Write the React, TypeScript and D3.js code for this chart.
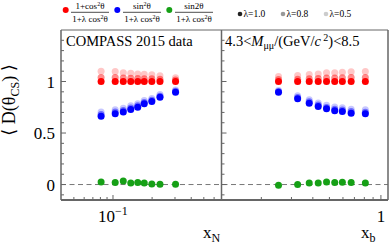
import * as d3 from 'd3';

// x positions of the bins
const xN = [0.081, 0.104, 0.12, 0.137, 0.155, 0.174, 0.199, 0.23, 0.303];
const xB = [0.252, 0.326, 0.381, 0.43, 0.481, 0.537, 0.595, 0.67, 0.811];

// left panel (x_N)
const redN10 = [1.0, 1.0, 1.0, 1.0, 1.0, 1.0, 1.0, 1.0, 1.0];
const redN08 = [1.04, 1.039, 1.034, 1.032, 1.03, 1.028, 1.026, 1.022, 1.014];
const redN05 = [1.1, 1.097, 1.084, 1.08, 1.074, 1.071, 1.065, 1.055, 1.036];
const blueN10 = [0.664, 0.687, 0.703, 0.729, 0.751, 0.784, 0.806, 0.848, 0.897];
const blueN08 = [0.68, 0.703, 0.718, 0.743, 0.765, 0.797, 0.818, 0.858, 0.905];
const blueN05 = [0.704, 0.727, 0.741, 0.765, 0.785, 0.816, 0.836, 0.874, 0.917];
const greenN = [0.025, 0.02, 0.035, 0.015, 0.02, 0.015, 0.006, 0.003, 0.003];

// right panel (x_b)
const redB10 = [1.0, 1.0, 1.0, 1.0, 1.0, 1.0, 1.0, 1.0, 1.0];
const redB08 = [1.019, 1.023, 1.027, 1.03, 1.034, 1.034, 1.036, 1.038, 1.039];
const redB05 = [1.048, 1.058, 1.068, 1.074, 1.084, 1.084, 1.09, 1.094, 1.097];
const blueB10 = [0.897, 0.832, 0.79, 0.758, 0.735, 0.716, 0.71, 0.693, 0.687];
const blueB08 = [0.903, 0.844, 0.803, 0.772, 0.749, 0.73, 0.724, 0.708, 0.702];
const blueB05 = [0.912, 0.862, 0.822, 0.792, 0.77, 0.752, 0.746, 0.73, 0.725];
const greenB = [-0.007, 0.0, 0.016, 0.016, 0.025, 0.02, 0.022, 0.02, 0.016];

const yMinor = [-0.1, 0.1, 0.2, 0.3, 0.4, 0.6, 0.7, 0.8, 0.9, 1.1, 1.2, 1.3, 1.4];
const yMajor = [0, 0.5, 1];
const xNTicks = [0.05, 0.06, 0.07, 0.08, 0.09, 0.2, 0.3, 0.4, 0.5, 0.6];
const xBTicks = [0.2, 0.3, 0.4, 0.5, 0.6, 0.7, 0.8, 0.9];
const lambdaLabels = ['λ=1.0', 'λ=0.8', 'λ=0.5'];
const lambdaGrays = ['#222', '#999', '#ccc'];

const RED = '#ff0000';
const BLUE = '#0000ff';
const GREEN = '#16a016';
const FRAME = '#666';
const FONT = '"Liberation Serif", "DejaVu Serif", serif';

const top = 30;
const bottom = 200;
const xL0 = 61;
const xMid = 221.5;
const xR1 = 388;

const y = d3.scaleLinear().domain([-0.15, 1.5]).range([bottom, top]);
const xLeft = d3.scaleLog().domain([0.0398, 0.684]).range([xL0, xMid]);
const xRight = d3.scaleLog().domain([0.117, 1.1]).range([xMid, xR1]);

function Dots({ xs, ys, sx, color, opacity }: any) {
  return (
    <g>
      {xs.map((d: number, i: number) => (
        <circle key={i} cx={sx(d)} cy={y(ys[i])} r={3.5} fill={color} fillOpacity={opacity} />
      ))}
    </g>
  );
}

function Fraction({ x, num }: { x: number; num: any }) {
  return (
    <g fontFamily={FONT} fontSize={9} textAnchor="middle">
      <text x={x} y={9}>{num}</text>
      <line x1={x - 19} x2={x + 19} y1={12.3} y2={12.3} stroke="#000" strokeWidth={0.7} />
      <text x={x} y={21.5}>
        1+λ cos<tspan dy={-3} fontSize={6}>2</tspan><tspan dy={3}>θ</tspan>
      </text>
    </g>
  );
}

export default function App() {
  const panels = [
    { sx: xLeft, xs: xN, r: [redN05, redN08, redN10], b: [blueN05, blueN08, blueN10], g: greenN },
    { sx: xRight, xs: xB, r: [redB05, redB08, redB10], b: [blueB05, blueB08, blueB10], g: greenB },
  ];
  const ops = [0.22, 0.45, 1];

  return (
    <svg width={390} height={245} style={{ position: 'absolute', left: 0, top: 0 }}>
      <rect width={390} height={245} fill="#fff" />

      {/* legend */}
      <circle cx={65.7} cy={10} r={3} fill={RED} />
      <Fraction x={90} num={<>1+cos<tspan dy={-3} fontSize={6}>2</tspan><tspan dy={3}>θ</tspan></>} />
      <circle cx={117.3} cy={10} r={3} fill={BLUE} />
      <Fraction x={142} num={<>sin<tspan dy={-3} fontSize={6}>2</tspan><tspan dy={3}>θ</tspan></>} />
      <circle cx={169.3} cy={10} r={3} fill={GREEN} />
      <Fraction x={194} num={<>sin2θ</>} />
      <g fontFamily={FONT} fontSize={9.5} fill="#000">
        {lambdaLabels.map((l, i) => (
          <g key={l} transform={`translate(${240 + i * 43},0)`}>
            <circle cx={0} cy={14} r={2.3} fill={lambdaGrays[i]} />
            <text x={3.5} y={17}>{l}</text>
          </g>
        ))}
      </g>

      {/* dashed zero line */}
      <line x1={xL0} x2={xR1} y1={y(0)} y2={y(0)} stroke="#777" strokeWidth={1} strokeDasharray="5,3.5" />

      {/* data */}
      {panels.map((p, k) => (
        <g key={k}>
          {p.r.map((ys, i) => <Dots key={'r' + i} xs={p.xs} ys={ys} sx={p.sx} color={RED} opacity={ops[i]} />)}
          {p.b.map((ys, i) => <Dots key={'b' + i} xs={p.xs} ys={ys} sx={p.sx} color={BLUE} opacity={ops[i]} />)}
          <Dots xs={p.xs} ys={p.g} sx={p.sx} color={GREEN} opacity={1} />
        </g>
      ))}

      {/* frames */}
      <g stroke={FRAME} fill="none">
        <line x1={xL0} x2={xR1} y1={top} y2={top} strokeWidth={1} />
        <line x1={xL0} x2={xL0} y1={top} y2={bottom} strokeWidth={1.5} />
        <line x1={xMid} x2={xMid} y1={top} y2={bottom} strokeWidth={1.5} />
        <line x1={xR1} x2={xR1} y1={top} y2={bottom} strokeWidth={1.5} />
        <line x1={xL0} x2={xR1} y1={bottom} y2={bottom} strokeWidth={2} />
        {[xL0, xMid].map((x0) => (
          <g key={x0}>
            {yMinor.map((t) => <line key={t} x1={x0} x2={x0 + 3} y1={y(t)} y2={y(t)} strokeWidth={1} />)}
            {yMajor.map((t) => <line key={t} x1={x0} x2={x0 + 5} y1={y(t)} y2={y(t)} strokeWidth={1} />)}
          </g>
        ))}
        {xNTicks.map((t) => <line key={'n' + t} x1={xLeft(t)} x2={xLeft(t)} y1={bottom} y2={bottom - 3} strokeWidth={1} />)}
        <line x1={xLeft(0.1)} x2={xLeft(0.1)} y1={bottom} y2={bottom - 5} strokeWidth={1} />
        {xBTicks.map((t) => <line key={'b' + t} x1={xRight(t)} x2={xRight(t)} y1={bottom} y2={bottom - 3} strokeWidth={1} />)}
        <line x1={xRight(1)} x2={xRight(1)} y1={bottom} y2={bottom - 5} strokeWidth={1} />
      </g>

      {/* tick labels */}
      <g fontFamily={FONT} fontSize={17} fill="#000">
        {yMajor.map((t) => (
          <text key={t} x={55} y={y(t) + 6} textAnchor="end">{t}</text>
        ))}
        <text x={xLeft(0.1)} y={222} textAnchor="middle">
          10<tspan dy={-7} fontSize={12}>−1</tspan>
        </text>
        <text x={xRight(1)} y={222} textAnchor="middle">1</text>
        <text x={203} y={238}>x<tspan dy={4} fontSize={12}>N</tspan></text>
        <text x={361} y={238}>x<tspan dy={4} fontSize={12}>b</tspan></text>
      </g>

      {/* y title */}
      <text transform="translate(15,100) rotate(-90)" fontFamily={FONT} fontSize={18} textAnchor="middle" fill="#000">
        ⟨ D(θ<tspan dy={4} fontSize={12}>CS</tspan><tspan dy={-4}>) ⟩</tspan>
      </text>

      {/* panel titles */}
      <g fontFamily={FONT} fontSize={14.5} fill="#000">
        <text x={66} y={45.5}>COMPASS 2015 data</text>
        <text x={225} y={45.5}>
          4.3&lt;<tspan fontStyle="italic">M</tspan><tspan dy={3} fontSize={10}>μμ</tspan>
          <tspan dy={-3}>/(GeV/</tspan><tspan fontStyle="italic">c</tspan>
          <tspan dy={-5} fontSize={10}> 2</tspan><tspan dy={5}>)&lt;8.5</tspan>
        </text>
      </g>
    </svg>
  );
}
